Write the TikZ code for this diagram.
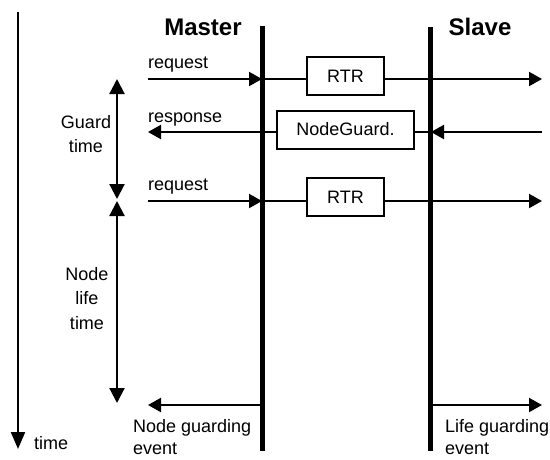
\documentclass[tikz,border=0pt]{standalone}
\usepackage{fontspec}
\setmainfont{Liberation Sans}
\usetikzlibrary{arrows.meta}
\begin{document}
\begin{tikzpicture}[x=1pt,y=-1pt,
  msg/.style={line width=2.2pt},
  tipend/.style={-{Triangle[length=13pt,width=14pt]}},
  dbl/.style={line width=2.2pt,{Triangle[length=15pt,width=15pt]}-{Triangle[length=15pt,width=15pt]}},
  lifeline/.style={line width=5pt},
  lbl/.style={font=\fontsize{18}{24.5}\selectfont, inner sep=0pt},
  evlbl/.style={font=\fontsize{18}{22}\selectfont, inner sep=0pt, align=left, anchor=north west},
  head/.style={font=\fontsize{24}{26}\selectfont\bfseries, inner sep=0pt, anchor=base},
  frame/.style={draw, line width=2pt, minimum height=38pt, inner sep=0pt, font=\fontsize{18}{20}\selectfont}
]
\useasboundingbox (0,0) rectangle (550,459);
% time axis
\coordinate (tTop) at (18,12);
\coordinate (tBot) at (18,449);
\draw[line width=2.2pt,-{Triangle[length=17pt,width=14pt]}] (tTop) -- (tBot);
\node[lbl, anchor=base west] (tlabel) at (34,449) {time};
% lifelines
\coordinate (mTop) at (262,26);
\coordinate (mBot) at (262,451);
\coordinate (sTop) at (430,27);
\coordinate (sBot) at (430,451);
\draw[lifeline] (mTop) -- (mBot);
\draw[lifeline] (sTop) -- (sBot);
\node[head] (master) at (203,35) {Master};
\node[head] (slave) at (480,35) {Slave};
% row coordinates
\coordinate (L1) at (148,79);  \coordinate (R1) at (542,79);
\coordinate (L2) at (148,132); \coordinate (R2) at (542,132);
\coordinate (L3) at (148,201); \coordinate (R3) at (542,201);
\coordinate (L4) at (148,405); \coordinate (R4) at (542,405);
\coordinate (M1) at (262,79);  \coordinate (S1) at (430,79);
\coordinate (M2) at (262,132); \coordinate (S2) at (431,132);
\coordinate (M3) at (262,201); \coordinate (S3) at (430,201);
\coordinate (M4) at (262,405); \coordinate (S4) at (430,405);
% boxes
\node[frame, minimum width=77pt] (rtr1) at (345.5,76) {RTR};
\node[frame, minimum width=137pt] (ng) at (345.5,129.5) {NodeGuard.};
\node[frame, minimum width=77pt] (rtr2) at (345.5,197) {RTR};
% row 1
\draw[msg,tipend] (L1) -- (M1);
\draw[msg] (M1) -- (rtr1.west |- M1);
\draw[msg,tipend] (rtr1.east |- R1) -- (R1);
\node[lbl, anchor=base west] (req1) at (148,68) {request};
% row 2
\draw[msg,tipend] (R2) -- (S2);
\draw[msg] (S2) -- (ng.east |- S2);
\draw[msg,tipend] (ng.west |- M2) -- (L2);
\node[lbl, anchor=base west] (resp) at (148,122) {response};
% row 3
\draw[msg,tipend] (L3) -- (M3);
\draw[msg] (M3) -- (rtr2.west |- M3);
\draw[msg,tipend] (rtr2.east |- R3) -- (R3);
\node[lbl, anchor=base west] (req2) at (148,190) {request};
% guard / life time
\coordinate (g1) at (117,79);
\coordinate (g2) at (117,199);
\coordinate (g3) at (117,201);
\coordinate (g4) at (117,403);
\draw[dbl] (g1) -- (g2);
\draw[dbl] (g3) -- (g4);
\node[lbl, align=center, anchor=north] (guard) at (86,115) {Guard\\time};
\node[lbl, align=center, anchor=north] (life) at (87,267) {Node\\life\\time};
% events
\draw[msg,tipend] (M4) -- (L4);
\draw[msg,tipend] (S4) -- (R4);
\node[evlbl] (nge) at (133,419) {Node guarding\\event};
\node[evlbl] (lge) at (445,419) {Life guarding\\event};
\end{tikzpicture}
\end{document}
